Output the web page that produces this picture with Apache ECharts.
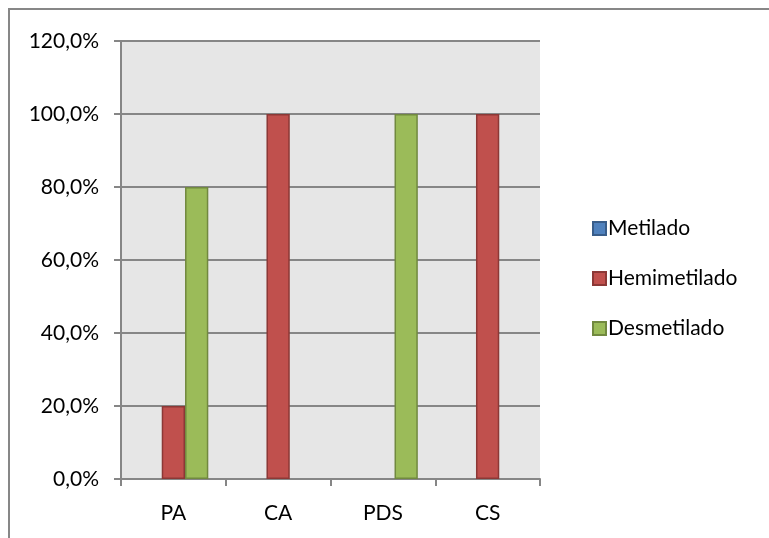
<!DOCTYPE html>
<html>
<head>
<meta charset="utf-8">
<script src="https://cdn.jsdelivr.net/npm/echarts@6/dist/echarts.min.js"></script>
<style>
  html, body { margin: 0; padding: 0; background: #fff; }
  #chart { width: 769px; height: 538px; }
</style>
</head>
<body>
<div id="chart"></div>
<script>
// Categories and methylation status percentages per group
const categories = ['PA', 'CA', 'PDS', 'CS'];
const metilado = [0, 0, 0, 0];
const hemimetilado = [20, 100, 0, 100];
const desmetilado = [80, 0, 100, 0];
const seriesNames = ['Metilado', 'Hemimetilado', 'Desmetilado'];

const FONT = 'Lato';
const fills = ['#4F81BD', '#C0504D', '#9BBB59'];
const borders = ['#385D8A', '#8C3836', '#71893F'];

function fmtPct(v) {
  return v.toFixed(1).replace('.', ',') + '%';
}

function toBars(values) {
  // zero-height bars are not drawn
  return values.map(v => (v === 0 ? '-' : v));
}

const chart = echarts.init(document.getElementById('chart'));
chart.setOption({
  animation: false,
  backgroundColor: '#ffffff',
  graphic: [{
    type: 'rect',
    shape: { x: 9, y: 9, width: 820, height: 600 },
    style: { fill: 'none', stroke: '#878787', lineWidth: 2 },
    silent: true,
    z: 100
  }],
  grid: {
    left: 121, right: 229, top: 41, bottom: 59,
    show: true, backgroundColor: '#E6E6E6', borderWidth: 0
  },
  legend: {
    orient: 'vertical',
    left: 587,
    top: 213,
    itemGap: 29,
    itemWidth: 13,
    itemHeight: 13,
    icon: 'rect',
    data: seriesNames,
    textStyle: { fontFamily: FONT, fontSize: 21, color: '#000', padding: [0, 0, 0, -3] }
  },
  xAxis: {
    type: 'category',
    data: categories,
    axisLine: { lineStyle: { color: '#868686', width: 2 } },
    axisTick: { show: true, length: 7, lineStyle: { color: '#868686', width: 2 } },
    axisLabel: { fontFamily: FONT, fontSize: 21, color: '#000', margin: 24 },
    splitLine: { show: false }
  },
  yAxis: {
    type: 'value',
    min: 0, max: 120, interval: 20,
    axisLine: { show: true, lineStyle: { color: '#868686', width: 2 } },
    axisTick: { show: true, length: 7, lineStyle: { color: '#868686', width: 2 } },
    axisLabel: { fontFamily: FONT, fontSize: 21, color: '#000', margin: 22, formatter: fmtPct },
    splitLine: { lineStyle: { color: '#868686', width: 2 } }
  },
  series: [metilado, hemimetilado, desmetilado].map((vals, i) => ({
    name: seriesNames[i],
    type: 'bar',
    data: toBars(vals),
    barGap: '0%',
    barCategoryGap: '33.3%',
    itemStyle: { color: fills[i], borderColor: borders[i], borderWidth: 1.5 }
  }))
});
</script>
</body>
</html>
